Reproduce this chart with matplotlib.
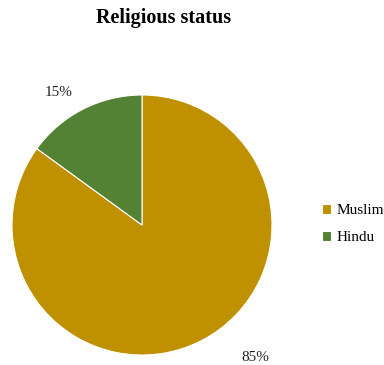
import numpy as np
import matplotlib.pyplot as plt

# data
religions = ["Muslim", "Hindu"]
shares = [85, 15]
colors = ["#BF9000", "#548235"]

plt.rcParams["font.family"] = ["Liberation Serif", "DejaVu Serif"]

fig = plt.figure(figsize=(3.84, 3.65), dpi=100)
ax = fig.add_axes([12 / 384, 10 / 365, 260 / 384, 260 / 365])

wedges, texts, autotexts = ax.pie(
    shares,
    colors=colors,
    startangle=90,
    counterclock=False,
    autopct="%d%%",
    pctdistance=1.2,
    wedgeprops=dict(edgecolor="white", linewidth=0.8),
    textprops=dict(fontsize=11, color="#222222"),
)
# nudge labels like the excel output
autotexts[0].set_position((0.87, -1.02))
autotexts[1].set_position((-0.64, 1.02))
ax.set_xlim(-1, 1)
ax.set_ylim(-1, 1)
ax.set_aspect("equal")

fig.suptitle("Religious status", x=164 / 384, y=1 - 18 / 365, va="center",
             fontsize=14.5, fontweight="bold")

fig.legend(wedges, religions, loc="center left", bbox_to_anchor=(308 / 384, 1 - 224 / 365),
           frameon=False, fontsize=11, handlelength=0.6, handleheight=0.6,
           handletextpad=0.4, labelspacing=0.9)

fig.savefig("out.png", dpi=100)
